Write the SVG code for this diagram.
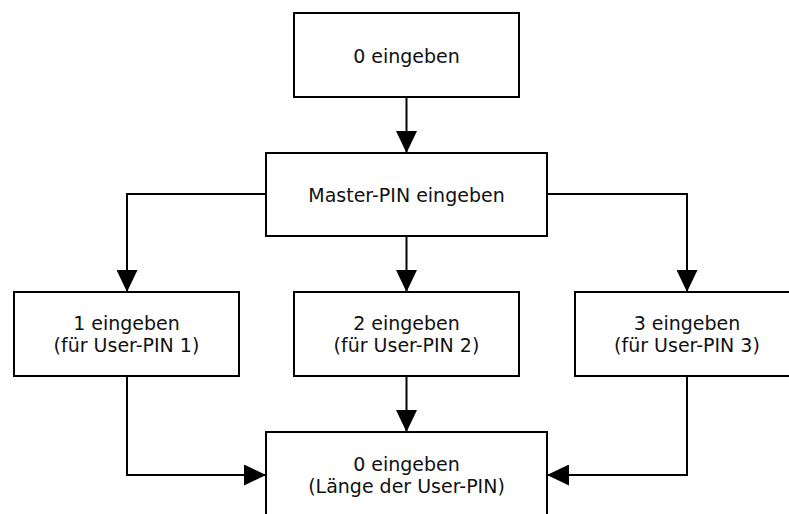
<svg xmlns="http://www.w3.org/2000/svg" width="789" height="514" viewBox="0 0 789 514">
<style>
.box{fill:#fff;stroke:#000;stroke-width:2}
.t{font-family:"DejaVu Sans",sans-serif;font-size:19px;fill:#111;text-anchor:middle}
.c{fill:none;stroke:#000;stroke-width:2}
</style>
<defs>
<marker id="ah" viewBox="0 0 22 21" refX="22" refY="10.5" markerWidth="22" markerHeight="21" markerUnits="userSpaceOnUse" orient="auto">
<path d="M0 0 L22 10.5 L0 21 Z" fill="#000"/>
</marker>
</defs>
<rect width="789" height="514" fill="#fff"/>
<g id="connectors">
<path class="c" d="M406.5 97 V153" marker-end="url(#ah)"/>
<path class="c" d="M266 194 H127 V292" marker-end="url(#ah)"/>
<path class="c" d="M406.5 236 V292" marker-end="url(#ah)"/>
<path class="c" d="M547 194 H687 V292" marker-end="url(#ah)"/>
<path class="c" d="M127 376 V475 H266" marker-end="url(#ah)"/>
<path class="c" d="M406.5 376 V432" marker-end="url(#ah)"/>
<path class="c" d="M687 376 V475 H547" marker-end="url(#ah)"/>
</g>
<g id="n_start">
<rect class="box" x="294" y="13" width="225" height="84"/>
<text class="t" x="406.5" y="62.5">0 eingeben</text>
</g>
<g id="n_master">
<rect class="box" x="266" y="153" width="281" height="83"/>
<text class="t" x="406.5" y="202">Master-PIN eingeben</text>
</g>
<g id="n_user1">
<rect class="box" x="14" y="292" width="225" height="84"/>
<text class="t" x="126.5" y="330">1 eingeben</text>
<text class="t" x="126.5" y="352">(für User-PIN 1)</text>
</g>
<g id="n_user2">
<rect class="box" x="294" y="292" width="225" height="84"/>
<text class="t" x="406.5" y="330">2 eingeben</text>
<text class="t" x="406.5" y="352">(für User-PIN 2)</text>
</g>
<g id="n_user3">
<rect class="box" x="575" y="292" width="225" height="84"/>
<text class="t" x="687" y="330">3 eingeben</text>
<text class="t" x="687" y="352">(für User-PIN 3)</text>
</g>
<g id="n_length">
<rect class="box" x="266" y="432" width="281" height="90"/>
<text class="t" x="406.5" y="471">0 eingeben</text>
<text class="t" x="406.5" y="493">(Länge der User-PIN)</text>
</g>
</svg>
